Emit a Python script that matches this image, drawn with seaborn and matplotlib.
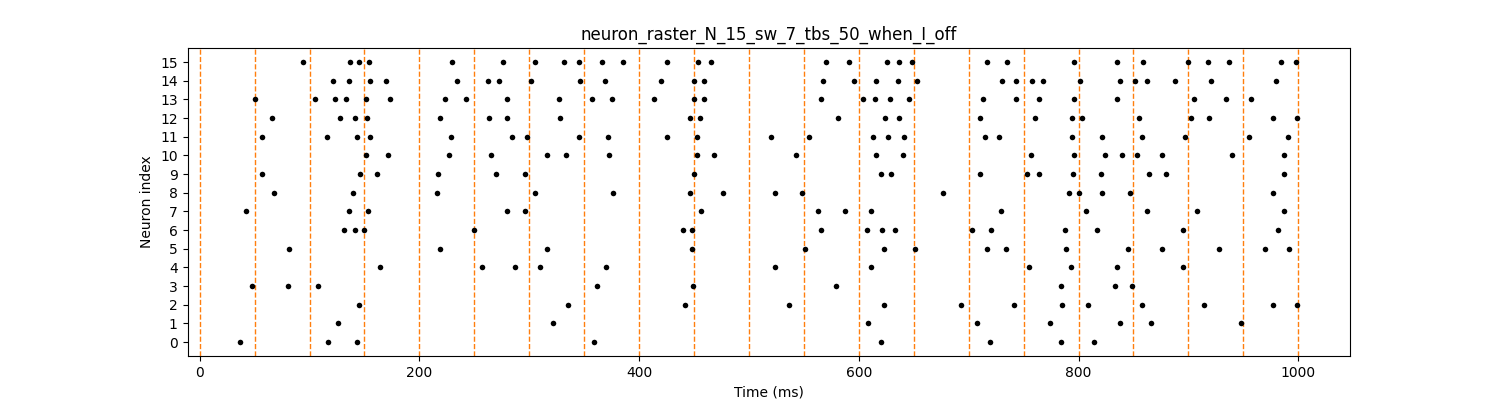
import numpy as np
import pandas as pd
import matplotlib
matplotlib.use("Agg")
import matplotlib.pyplot as plt
import seaborn as sns

# spike times (ms) per neuron
spikes_0 = [37, 117, 143, 359, 620, 719, 784, 814]
spikes_1 = [126, 322, 608, 708, 774, 838, 866, 948]
spikes_2 = [145, 335, 442, 536, 623, 693, 741, 785, 809, 858, 914, 977, 999]
spikes_3 = [48, 80, 108, 362, 449, 579, 784, 833, 849]
spikes_4 = [164, 257, 287, 310, 370, 524, 611, 755, 793, 835, 895]
spikes_5 = [81, 219, 316, 448, 551, 623, 651, 717, 734, 789, 845, 876, 928, 970, 992]
spikes_6 = [131, 141, 150, 250, 440, 448, 566, 607, 621, 633, 703, 720, 788, 817, 895, 982]
spikes_7 = [42, 136, 153, 280, 296, 456, 563, 587, 611, 729, 807, 862, 908, 987]
spikes_8 = [68, 140, 216, 305, 376, 446, 476, 524, 548, 677, 791, 800, 821, 847, 977]
spikes_9 = [57, 146, 161, 217, 270, 296, 450, 620, 629, 710, 753, 764, 795, 820, 864, 880, 987]
spikes_10 = [151, 171, 227, 265, 316, 333, 373, 453, 468, 543, 616, 640, 757, 796, 824, 840, 853, 876, 940, 987]
spikes_11 = [57, 116, 143, 155, 229, 284, 298, 345, 372, 425, 453, 520, 555, 613, 627, 641, 715, 728, 794, 821, 858, 897, 955, 991]
spikes_12 = [66, 128, 141, 152, 219, 263, 280, 328, 446, 455, 581, 624, 637, 710, 760, 794, 803, 855, 902, 919, 977, 999]
spikes_13 = [50, 105, 123, 133, 151, 173, 223, 242, 280, 327, 357, 375, 414, 450, 459, 566, 604, 615, 628, 646, 713, 743, 764, 796, 835, 905, 934, 957]
spikes_14 = [121, 136, 155, 170, 234, 262, 272, 302, 346, 369, 420, 450, 459, 567, 596, 616, 636, 653, 730, 743, 758, 768, 801, 838, 851, 862, 888, 921, 980]
spikes_15 = [94, 137, 145, 154, 230, 276, 305, 332, 345, 366, 385, 425, 454, 465, 570, 591, 626, 637, 648, 717, 735, 796, 835, 859, 900, 918, 937, 984, 998]

all_spikes = [spikes_0, spikes_1, spikes_2, spikes_3, spikes_4, spikes_5, spikes_6, spikes_7,
              spikes_8, spikes_9, spikes_10, spikes_11, spikes_12, spikes_13, spikes_14, spikes_15]

# stimulus marks every 50 ms
stim_times = list(range(0, 1001, 50))

rows = []
for idx, times in enumerate(all_spikes):
    for t in times:
        rows.append({"time": t, "neuron": idx})
df = pd.DataFrame(rows)

fig, ax = plt.subplots(figsize=(15, 4), dpi=100)
for t in stim_times:
    ax.axvline(t, color="C1", linestyle="--", linewidth=1)
sns.scatterplot(data=df, x="time", y="neuron", color="black", s=16, linewidth=0, ax=ax, zorder=3)

# limits as the 5% auto-margin around the spike data
tmin, tmax = df["time"].min(), df["time"].max()
pad = 0.05 * (tmax - tmin)
ax.set_xlim(tmin - pad, tmax + pad)
ax.set_ylim(-0.75, 15.75)

ax.set_yticks(range(16))
ax.set_xlabel("Time (ms)")
ax.set_ylabel("Neuron index")
ax.set_title("neuron_raster_N_15_sw_7_tbs_50_when_I_off")

fig.savefig("out.png")
